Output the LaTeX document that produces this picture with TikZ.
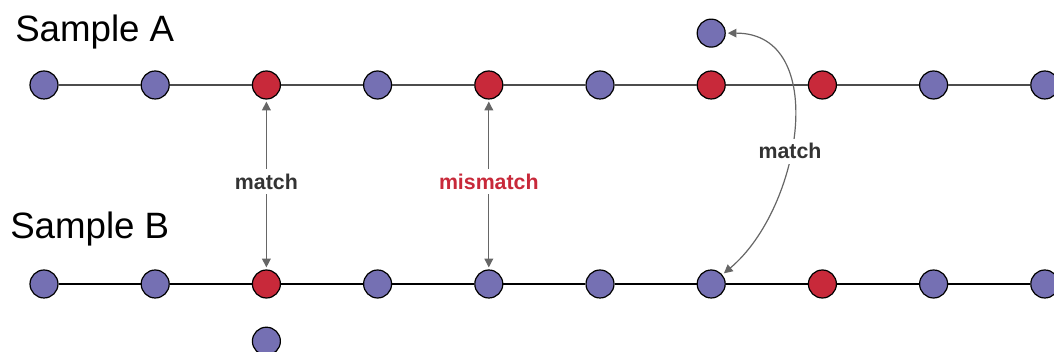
\documentclass[tikz,border=0pt]{standalone}
\usepackage{fontspec}
\setmainfont{Liberation Sans}
\usetikzlibrary{arrows.meta,positioning}

\definecolor{dotblue}{HTML}{7570B3}
\definecolor{dotred}{HTML}{C8293A}
\definecolor{arrowgray}{HTML}{666666}
\definecolor{labelgray}{HTML}{333333}

\begin{document}
\begin{tikzpicture}[
        x=0.75pt, y=0.75pt,
        node distance=17pt and 61.5pt,
        dot/.style={draw=black, circle, line width=0.9pt, minimum size=21pt, inner sep=0pt, fill=dotblue},
        hit/.style={dot, fill=dotred},
        chain/.style={line width=0.9pt, draw=black!70},
        arrow/.style={{Triangle[length=6.5pt,width=6.5pt]}-{Triangle[length=6.5pt,width=6.5pt]}, draw=arrowgray, line width=0.9pt, shorten >=1.5pt, shorten <=1.5pt},
        tag/.style={fill=white, font=\fontsize{16}{18}\selectfont\bfseries, text=labelgray, inner sep=3.5pt},
        title/.style={font=\fontsize{27.5}{32}\selectfont, anchor=base west, inner sep=0pt}
    ]
        \useasboundingbox (0,0) rectangle (1054,352);

        % Titles
        \node[title] (titleA) at (15,310) {Sample A};
        \node[title] (titleB) at (10,113) {Sample B};

        % Sample A
        \node[dot] (a1) at (44,267) {};
        \node[dot, right=of a1] (a2) {};
        \node[hit, right=of a2] (a3) {};
        \node[dot, right=of a3] (a4) {};
        \node[hit, right=of a4] (a5) {};
        \node[dot, right=of a5] (a6) {};
        \node[hit, right=of a6] (a7) {};
        \node[hit, right=of a7] (a8) {};
        \node[dot, right=of a8] (a9) {};
        \node[dot, right=of a9] (a10) {};
        \node[dot, above=of a7] (a7x) {};

        % Sample B
        \node[dot] (b1) at (44,68) {};
        \node[dot, right=of b1] (b2) {};
        \node[hit, right=of b2] (b3) {};
        \node[dot, right=of b3] (b4) {};
        \node[dot, right=of b4] (b5) {};
        \node[dot, right=of b5] (b6) {};
        \node[dot, right=of b6] (b7) {};
        \node[hit, right=of b7] (b8) {};
        \node[dot, right=of b8] (b9) {};
        \node[dot, right=of b9] (b10) {};
        \node[dot, below=21pt of b3] (b3x) {};

        % Chains
        \draw[chain] (a1) -- (a2) -- (a3) -- (a4) -- (a5) -- (a6) -- (a7) -- (a8) -- (a9) -- (a10);
        \draw[chain, draw=black] (b1) -- (b2) -- (b3) -- (b4) -- (b5) -- (b6) -- (b7) -- (b8) -- (b9) -- (b10);

        % Comparisons
        \draw[arrow] (a3) -- node[tag, yshift=2pt] {match} (b3);
        \draw[arrow] (a5) -- node[tag, yshift=2pt, text=dotred] {mismatch} (b5);
        \draw[arrow] (a7x) to[out=0, in=40, looseness=1.1] node[tag, pos=0.57] {match} (b7);

    \end{tikzpicture}
\end{document}
